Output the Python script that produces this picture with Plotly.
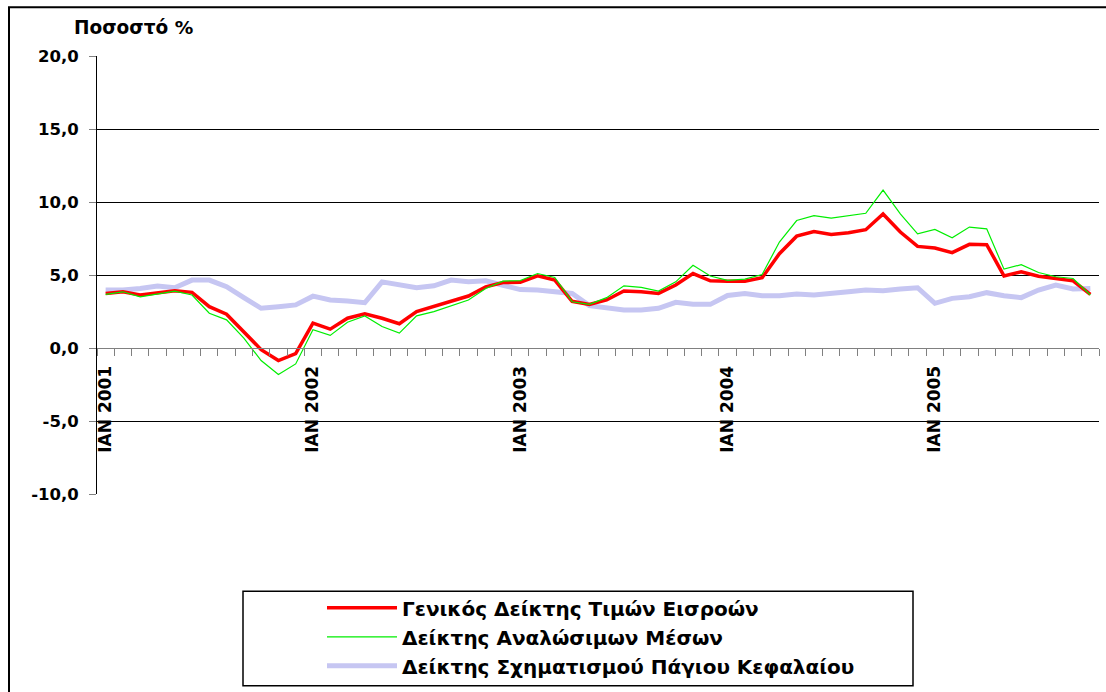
import plotly.graph_objects as go

month_abbr = ["ΙΑΝ", "ΦΕΒ", "ΜΑΡ", "ΑΠΡ", "ΜΑΪ", "ΙΟΥΝ", "ΙΟΥΛ", "ΑΥΓ", "ΣΕΠ", "ΟΚΤ", "ΝΟΕ", "ΔΕΚ"]
years = [2001, 2002, 2003, 2004, 2005]
months = [f"{m} {y}" for y in years for m in month_abbr][:58]  # Jan 2001 - Oct 2005

general = [3.74, 3.85, 3.63, 3.79, 3.92, 3.81, 2.83, 2.31, 1.13, -0.11, -0.86, -0.39,
           1.70, 1.29, 2.04, 2.34, 2.04, 1.66, 2.49, 2.83, 3.22, 3.56, 4.19, 4.49,
           4.50, 4.94, 4.65, 3.20, 2.99, 3.29, 3.90, 3.85, 3.74, 4.31, 5.10, 4.60,
           4.58, 4.58, 4.81, 6.46, 7.66, 7.98, 7.78, 7.89, 8.10, 9.18, 7.94, 6.96,
           6.85, 6.53, 7.10, 7.08, 4.94, 5.22, 4.92, 4.76, 4.60, 3.67]

consumables = [3.67, 3.85, 3.50, 3.70, 3.90, 3.63, 2.38, 1.93, 0.68, -0.86, -1.81, -1.09,
               1.25, 0.86, 1.77, 2.20, 1.47, 1.02, 2.20, 2.49, 2.90, 3.29, 4.08, 4.58,
               4.62, 5.10, 4.83, 3.17, 2.99, 3.45, 4.26, 4.15, 3.90, 4.53, 5.67, 4.93,
               4.63, 4.72, 5.03, 7.26, 8.73, 9.07, 8.89, 9.07, 9.23, 10.82, 9.18, 7.82,
               8.12, 7.55, 8.28, 8.16, 5.40, 5.71, 5.17, 4.88, 4.76, 3.63]

capital = [3.97, 3.97, 4.08, 4.24, 4.13, 4.65, 4.65, 4.20, 3.45, 2.72, 2.83, 2.95,
           3.55, 3.29, 3.22, 3.10, 4.53, 4.35, 4.13, 4.26, 4.65, 4.53, 4.60, 4.30,
           4.00, 3.97, 3.85, 3.74, 2.90, 2.72, 2.61, 2.61, 2.72, 3.13, 2.99, 2.99,
           3.60, 3.74, 3.58, 3.58, 3.70, 3.63, 3.70, 3.85, 3.97, 3.92, 4.04, 4.13,
           3.06, 3.40, 3.51, 3.79, 3.58, 3.45, 3.97, 4.31, 4.04, 4.08]

series_names = ["Γενικός Δείκτης Τιμών Εισροών",
                "Δείκτης Αναλώσιμων Μέσων",
                "Δείκτης Σχηματισμού Πάγιου Κεφαλαίου"]

y_ticks = [-10, -5, 0, 5, 10, 15, 20]
y_ticktext = ["-10,0", "-5,0", "0,0", "5,0", "10,0", "15,0", "20,0"]
y_title = "Ποσοστό %"

x = list(range(len(months)))
jan_idx = [i for i, m in enumerate(months) if m.startswith("ΙΑΝ")]

FONT = "DejaVu Sans, sans-serif"

fig = go.Figure()
fig.add_trace(go.Scatter(x=x, y=capital, name=f"<b>{series_names[2]}</b>", mode="lines",
                         line=dict(color="rgb(198,198,242)", width=5), legendrank=3))
fig.add_trace(go.Scatter(x=x, y=general, name=f"<b>{series_names[0]}</b>", mode="lines",
                         line=dict(color="#ff0000", width=3.5), legendrank=1))
fig.add_trace(go.Scatter(x=x, y=consumables, name=f"<b>{series_names[1]}</b>", mode="lines",
                         line=dict(color="#00ee00", width=1.2), legendrank=2))

W, H = 1106, 692
L, R, T, B = 97, 7, 56, 195
pw, ph = W - L - R, H - T - B


def px(xp):
    return (xp - L) / pw


def py(yp):
    return (H - B - yp) / ph


fig.update_layout(
    width=W, height=H,
    margin=dict(l=L, r=R, t=T, b=B),
    paper_bgcolor="white", plot_bgcolor="white",
    font=dict(family=FONT, color="black"),
    showlegend=True,
    legend=dict(x=px(322), y=py(592), xanchor="left", yanchor="top",
                bgcolor="rgba(0,0,0,0)", borderwidth=0,
                font=dict(family=FONT, size=20, weight="bold"),
                itemwidth=70, tracegroupgap=0),
    xaxis=dict(range=[-0.5, len(months) - 0.5], anchor="free", position=1/3,
               tickvals=jan_idx, ticktext=[f"<b>{months[i]}</b>" for i in jan_idx],
               tickangle=-90, ticks="", showgrid=False, zeroline=False,
               showline=True, linecolor="#808080", linewidth=1,
               tickfont=dict(family=FONT, size=17, weight="bold"),
               ticklabelstandoff=10,
               minor=dict(tick0=0.5, dtick=1, ticks="outside", ticklen=7,
                          tickcolor="#808080", tickwidth=1, showgrid=False)),
    yaxis=dict(range=[-10, 20], tickvals=y_ticks, ticktext=[f"<b>{t}</b>" for t in y_ticktext],
               showgrid=True, gridcolor="black", gridwidth=1, zeroline=False,
               showline=True, linecolor="black", linewidth=1,
               ticks="outside", ticklen=7, tickcolor="#808080",
               ticklabelstandoff=7,
               tickfont=dict(family=FONT, size=16.5, weight="bold")),
    annotations=[dict(text=f"<b>{y_title}</b>", xref="paper", yref="paper",
                      x=px(133), y=py(27), xanchor="center", yanchor="middle",
                      showarrow=False,
                      font=dict(family=FONT, size=18.5, weight="bold"))],
    shapes=[
        dict(type="rect", xref="paper", yref="paper",
             x0=px(9), x1=px(1120), y0=py(710), y1=py(7),
             line=dict(color="black", width=2), fillcolor="rgba(0,0,0,0)", layer="below"),
        dict(type="rect", xref="paper", yref="paper",
             x0=px(243), x1=px(913), y0=py(690), y1=py(595),
             line=dict(color="black", width=1.5), fillcolor="rgba(0,0,0,0)"),
    ],
)

fig.write_html("out.html", config={"displayModeBar": False},
               post_script="document.body.style.margin='0px';")
